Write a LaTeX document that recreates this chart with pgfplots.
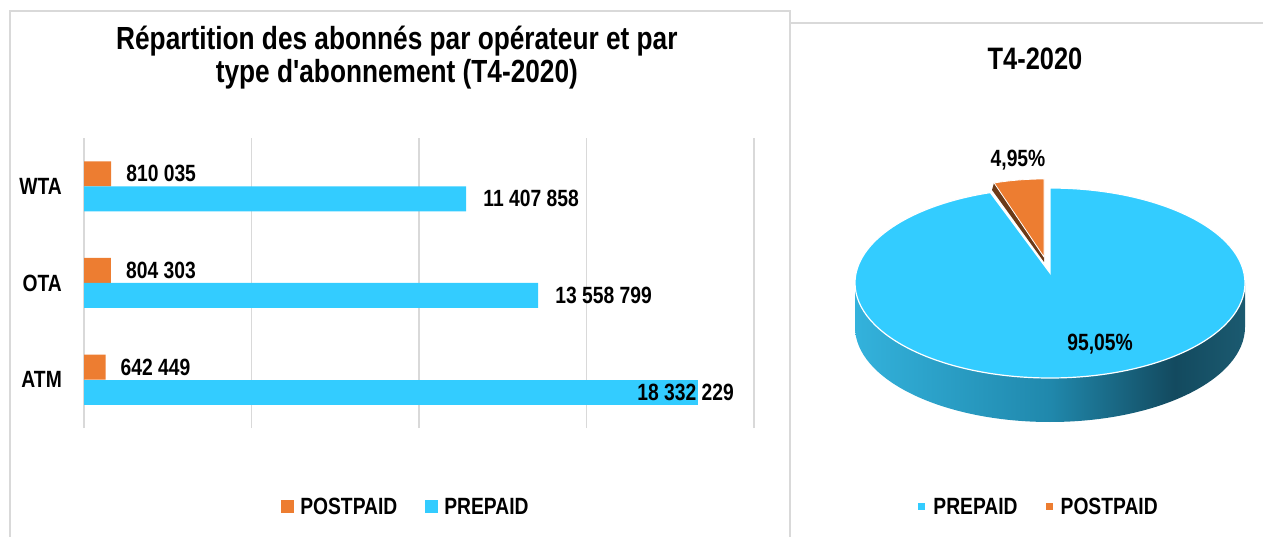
\documentclass[border=0pt]{standalone}
\usepackage{pgfplots}
\usepackage{pgfplotstable}
\pgfplotsset{compat=1.18}
\usepackage{fontspec}
\setmainfont{Liberation Sans}[FakeStretch=0.82, Ligatures=TeXOff]

\definecolor{prepaid}{HTML}{33CCFF}
\definecolor{postpaid}{HTML}{ED7D31}
\definecolor{framegray}{HTML}{D9D9D9}
\definecolor{sideL}{HTML}{33B2DC}
\definecolor{sideM}{HTML}{2088AC}
\definecolor{sideD}{HTML}{134A5F}
\definecolor{sideR}{HTML}{1B5A70}
\definecolor{stripC}{HTML}{6B3A18}

\pgfdeclarehorizontalshading{pieside}{100bp}{color(0bp)=(sideL); color(25bp)=(sideL);
  color(50bp)=(sideM); color(66bp)=(sideD); color(75bp)=(sideR); color(100bp)=(sideR)}

\newcommand\bodyfont{\fontsize{23.5bp}{28bp}\selectfont\bfseries}
\newcommand\titlefont{\fontsize{32bp}{33bp}\selectfont\bfseries}
\newcommand\pietitlefont{\fontsize{31bp}{33bp}\selectfont\bfseries}

% subscribers by operator, T4-2020
\pgfplotstableread[col sep=comma]{
cat,val,lab
0,642449,642 449
1,804303,804 303
2,810035,810 035
}\postpaidtab
\pgfplotstableread[col sep=comma]{
cat,val,lab
0,18332229,18 332 229
1,13558799,13 558 799
2,11407858,11 407 858
}\prepaidtab

% pie shares (%)
\def\prepaidshare{95.05}
\def\postpaidshare{4.95}

\begin{document}
\begin{tikzpicture}
\path[use as bounding box] (0bp,0bp) rectangle (1263bp,537bp);
% panel frames
\draw[framegray, line width=2bp] (10bp,-5bp) -- (10bp,526bp) -- (790bp,526bp) -- (790bp,-5bp);
\draw[framegray, line width=2bp] (790bp,514bp) -- (1270bp,514bp);

\begin{axis}[
  at={(84bp,109bp)}, anchor=south west, scale only axis,
  width=670bp, height=290bp,
  xbar, bar width=25bp,
  xmin=0, xmax=20000000, ymin=-0.5, ymax=2.5,
  xtick={0,5000000,10000000,15000000,20000000}, xticklabels={},
  scaled x ticks=false,
  ytick={0,1,2}, yticklabels={ATM,OTA,WTA},
  yticklabel style={font=\bodyfont, inner sep=0pt, xshift=-22bp},
  major tick length=0pt,
  xmajorgrids, grid style={draw=framegray, line width=1.5bp},
  axis line style={draw=none},
  clip=false,
  point meta=explicit symbolic,
  nodes near coords={\pgfplotspointmeta},
  nodes near coords style={font=\bodyfont, anchor=west, inner sep=0pt, text=black},
  title={Répartition des abonnés par opérateur et par\\type d'abonnement (T4-2020)},
  title style={at={(0.467,1.255)}, anchor=center, align=center, font=\titlefont},
  legend image code/.code={\fill[#1] (0bp,-6.5bp) rectangle (13bp,6.5bp);},
  legend style={draw=none, fill=none, at={(0.479,-0.2724)}, anchor=center,
    legend columns=2, font=\bodyfont, nodes={inner sep=0pt},
    /tikz/every odd column/.append style={column sep=6bp},
    /tikz/every even column/.append style={column sep=28bp}},
]
\addplot[fill=postpaid, draw=none, bar shift=12.5bp,
  nodes near coords style={xshift=15bp}] table[x=val, y=cat, meta=lab] {\postpaidtab};
\addlegendentry{POSTPAID}
\addplot[fill=prepaid, draw=none, bar shift=-12.5bp, skip coords between index={0}{1},
  nodes near coords style={xshift=17bp}] table[x=val, y=cat, meta=lab] {\prepaidtab};
\addlegendentry{PREPAID}
% ATM label is pulled back inside the plot area
\addplot[fill=prepaid, draw=none, bar shift=-12.5bp, skip coords between index={1}{3},
  forget plot, nodes near coords style={xshift=-61bp}] table[x=val, y=cat, meta=lab] {\prepaidtab};
\end{axis}

\begin{axis}[
  at={(0bp,0bp)}, anchor=south west, scale only axis,
  x=1bp, y=1bp, xmin=0, xmax=1263, ymin=0, ymax=537,
  hide axis, clip=false,
  title={T4-2020},
  title style={at={(0.8195,0.879)}, anchor=center, font=\pietitlefont},
  legend image code/.code={\fill[#1] (0bp,-3.5bp) rectangle (7bp,3.5bp);},
  legend style={draw=none, fill=none, at={(0.8219,0.0559)}, anchor=center,
    legend columns=2, font=\bodyfont, nodes={inner sep=0pt},
    /tikz/every odd column/.append style={column sep=8bp},
    /tikz/every even column/.append style={column sep=28bp}},
]
\addlegendimage{fill=prepaid, draw=none}
\addlegendentry{PREPAID}
\addlegendimage{fill=postpaid, draw=none}
\addlegendentry{POSTPAID}
\pgfmathsetmacro\angEnd{90+\postpaidshare*3.6}
% side of the pie
\shade[shading=pieside] (855,254) arc[start angle=180, end angle=360, x radius=195bp, y radius=95bp]
  -- (1245,210) arc[start angle=0, end angle=-180, x radius=195bp, y radius=95bp] -- cycle;
% prepaid slice
\fill[prepaid, draw=white, line width=1.2bp] (1050,264) -- (1050,349)
  arc[start angle=90, end angle={\angEnd-360}, x radius=195bp, y radius=95bp] -- cycle;
% exploded postpaid slice
\fill[stripC] (994,354) -- (1044,280) -- (1044,275) -- (992,347) -- cycle;
\fill[postpaid, draw=white, line width=0.8bp] (1044,280) -- (1044,358)
  arc[start angle=90, end angle=\angEnd, x radius=163bp, y radius=83bp] -- cycle;
\node[font=\bodyfont] at (1018,377) {4,95\%};
\node[font=\bodyfont] at (1100,193) {95,05\%};
\end{axis}
\end{tikzpicture}
\end{document}
